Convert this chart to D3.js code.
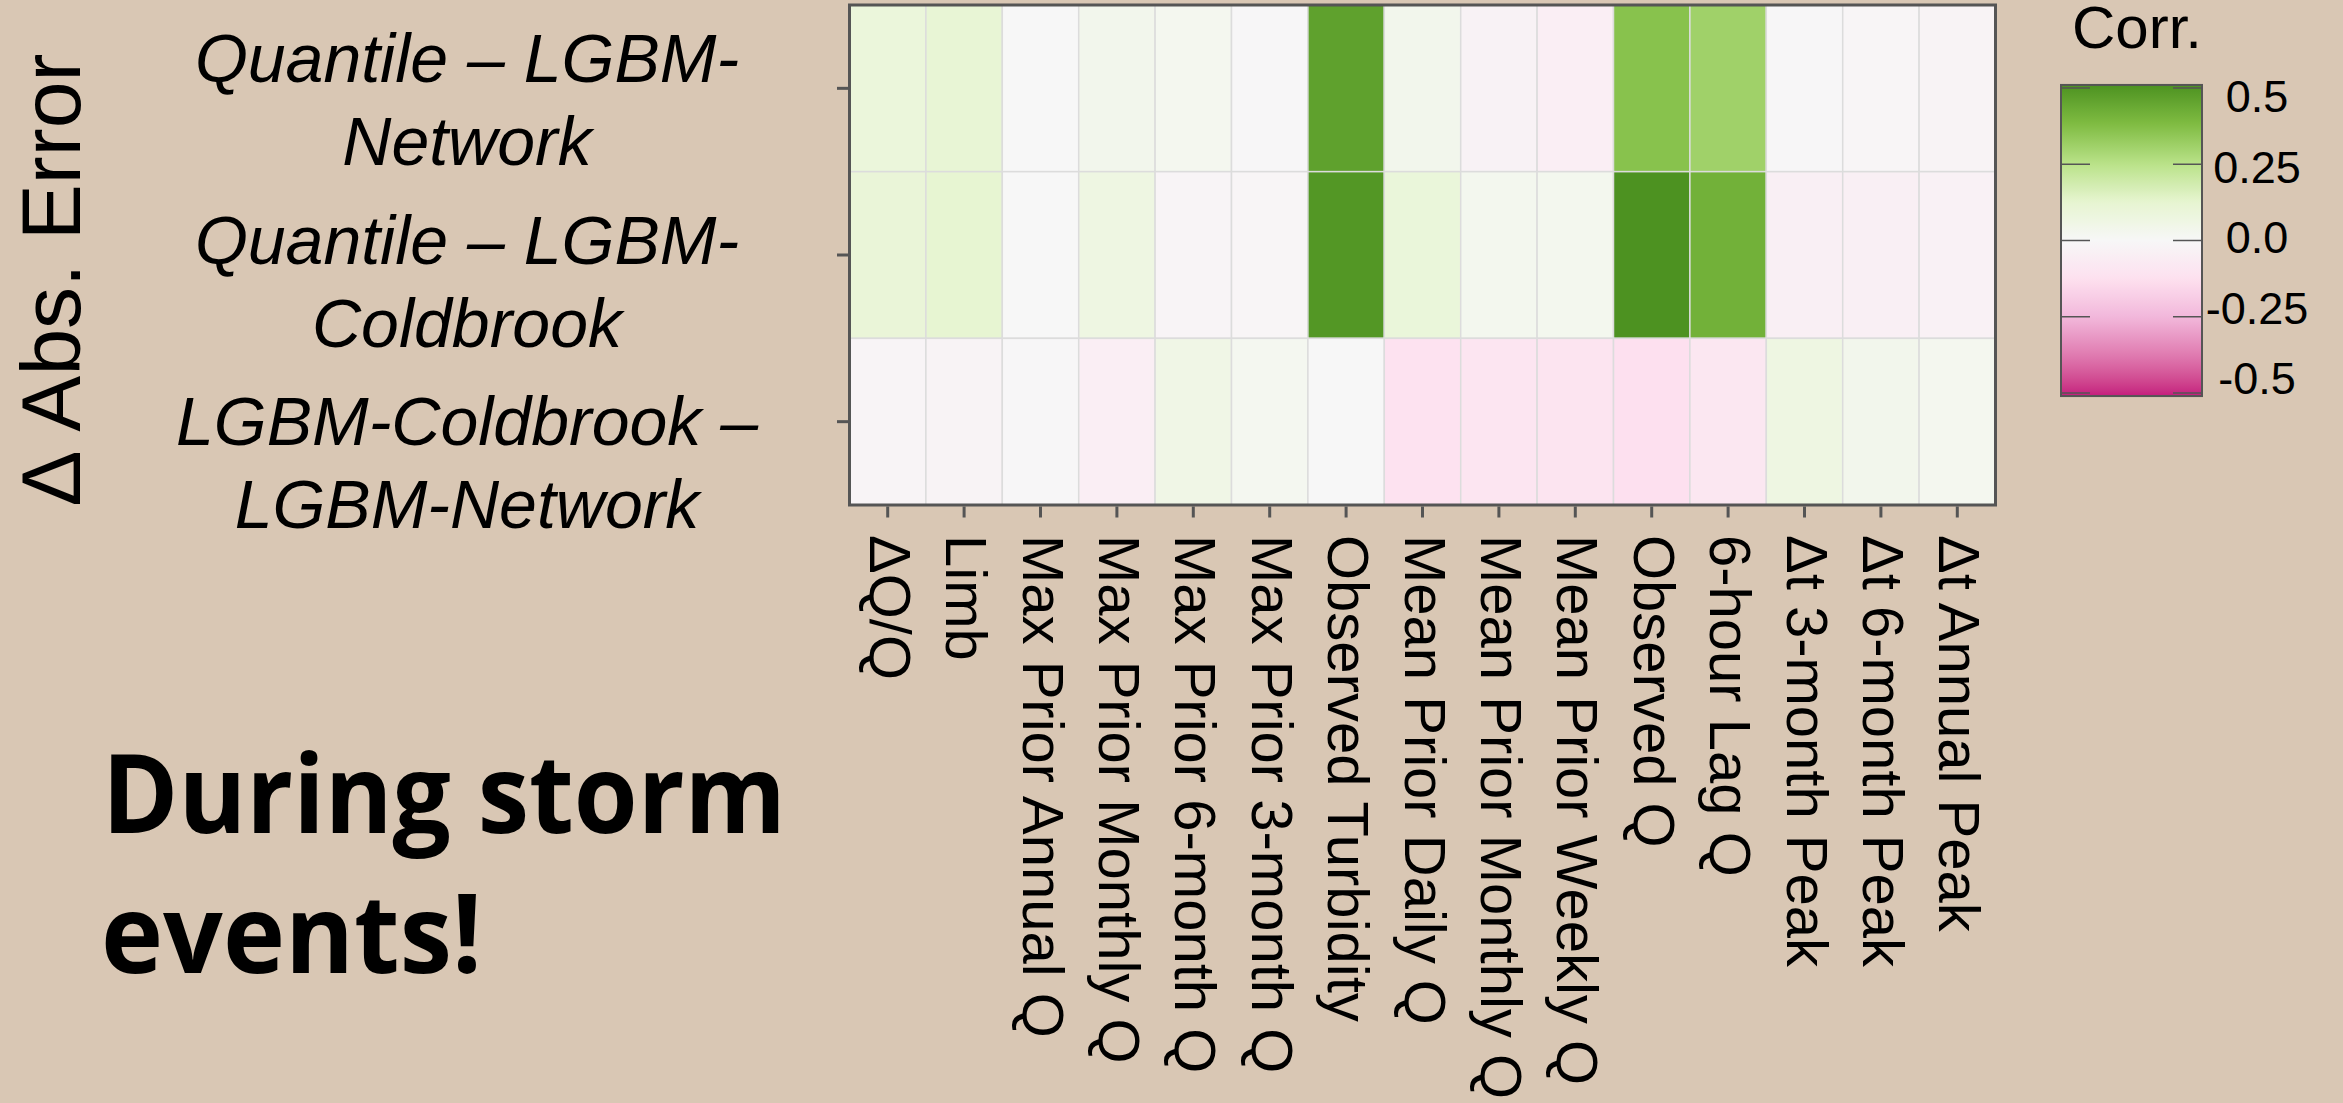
<!DOCTYPE html>
<html>
<head>
<meta charset="utf-8">
<script src="https://cdn.jsdelivr.net/npm/d3@7"></script>
<style>
  html, body { margin: 0; padding: 0; background: #d9c7b4; }
  svg { display: block; }
</style>
</head>
<body>
<svg id="chart" width="2343" height="1103"></svg>
<script>
// Predictor variables (columns of the heatmap)
const features = [
  "ΔQ/Q", "Limb", "Max Prior Annual Q", "Max Prior Monthly Q",
  "Max Prior 6-month Q", "Max Prior 3-month Q", "Observed Turbidity",
  "Mean Prior Daily Q", "Mean Prior Monthly Q", "Mean Prior Weekly Q",
  "Observed Q", "6-hour Lag Q", "Δt 3-month Peak", "Δt 6-month Peak",
  "Δt Annual Peak"
];

// Model comparisons (rows), with their two-line axis labels
const comparisons = [
  "Quantile – LGBM-Network",
  "Quantile – LGBM-Coldbrook",
  "LGBM-Coldbrook – LGBM-Network"
];
const comparisonLines = [
  ["Quantile – LGBM-", "Network"],
  ["Quantile – LGBM-", "Coldbrook"],
  ["LGBM-Coldbrook –", "LGBM-Network"]
];

// Correlation between the change in absolute error and each predictor
const corrQuantileNetwork = [
  0.09, 0.11, 0.0, 0.036, 0.026, -0.003, 0.464, 0.035,
  -0.028, -0.05, 0.362, 0.309, -0.005, -0.01, -0.025
];
const corrQuantileColdbrook = [
  0.10, 0.12, 0.0, 0.069, -0.015, -0.01, 0.495, 0.095,
  0.03, 0.03, 0.51, 0.416, -0.044, -0.044, -0.033
];
const corrColdbrookNetwork = [
  -0.017, -0.025, -0.003, -0.05, 0.056, 0.023, 0.0, -0.116,
  -0.10, -0.105, -0.128, -0.089, 0.07, 0.036, 0.026
];
const corrRows = [corrQuantileNetwork, corrQuantileColdbrook, corrColdbrookNetwork];

// Colour bar ticks
const legendTicks = [0.5, 0.25, 0, -0.25, -0.5];
const legendTickLabels = ["0.5", "0.25", "0.0", "-0.25", "-0.5"];

const svg = d3.select("#chart");
const ink = "#555555";
const sans = "'Liberation Sans', Arial, sans-serif";

// ---- heatmap panel ----
const panel = { left: 849.5, right: 1995.5, top: 5, bottom: 505 };

const x = d3.scaleBand().domain(features).range([panel.left, panel.right]).padding(0);
const y = d3.scaleBand().domain(comparisons).range([panel.top, panel.bottom]).padding(0);

const cells = [];
comparisons.forEach((c, i) => {
  features.forEach((f, j) => cells.push({ row: c, col: f, value: corrRows[i][j] }));
});

const limit = d3.max(cells, d => Math.abs(d.value));
const palette = d3.schemePiYG[9];
const color = d3.scaleLinear()
  .domain(d3.range(9).map(i => -limit + i * (2 * limit) / 8))
  .range(palette)
  .interpolate(d3.interpolateLab)
  .clamp(true);

svg.append("g")
  .selectAll("rect")
  .data(cells)
  .join("rect")
  .attr("x", d => x(d.col))
  .attr("y", d => y(d.row))
  .attr("width", x.bandwidth())
  .attr("height", y.bandwidth())
  .attr("fill", d => color(d.value))
  .attr("stroke", "#dcdcdc")
  .attr("stroke-width", 1.5);

// panel border
svg.append("rect")
  .attr("x", panel.left).attr("y", panel.top)
  .attr("width", panel.right - panel.left)
  .attr("height", panel.bottom - panel.top)
  .attr("fill", "none")
  .attr("stroke", ink)
  .attr("stroke-width", 3);

// x axis ticks
const gx = svg.append("g")
  .attr("transform", `translate(0,${panel.bottom + 1.5})`)
  .call(d3.axisBottom(x).tickSize(11).tickSizeOuter(0));
gx.select(".domain").remove();
gx.selectAll(".tick text").remove();
gx.selectAll(".tick line").attr("stroke", ink).attr("stroke-width", 3);

// x labels, rotated to read downwards
svg.append("g")
  .selectAll("text")
  .data(features)
  .join("text")
  .attr("transform", d => `translate(${x(d) + x.bandwidth() / 2},535) rotate(90)`)
  .attr("dy", "0.31em")
  .attr("font-family", sans)
  .attr("font-size", 58)
  .attr("fill", "#000")
  .attr("text-anchor", "start")
  .text(d => d);

// y axis ticks
const gy = svg.append("g")
  .attr("transform", `translate(${panel.left - 1.5},0)`)
  .call(d3.axisLeft(y).tickSize(11).tickSizeOuter(0));
gy.select(".domain").remove();
gy.selectAll(".tick text").remove();
gy.selectAll(".tick line").attr("stroke", ink).attr("stroke-width", 3);

// italic two-line row labels
const labelBaseline = d3.scalePoint().domain(comparisons).range([82, 445]);
const yLabels = svg.append("g")
  .attr("font-family", sans)
  .attr("font-style", "italic")
  .attr("font-size", 68)
  .attr("text-anchor", "middle")
  .attr("fill", "#000");
comparisons.forEach((c, i) => {
  const t = yLabels.append("text").attr("x", 467).attr("y", labelBaseline(c));
  comparisonLines[i].forEach((line, k) => {
    t.append("tspan").attr("x", 467).attr("dy", k === 0 ? 0 : 83).text(line);
  });
});

// y axis title
svg.append("text")
  .attr("transform", "translate(80,280) rotate(-90)")
  .attr("text-anchor", "middle")
  .attr("font-family", sans)
  .attr("font-size", 84)
  .attr("fill", "#000")
  .text("Δ Abs. Error");

// ---- colour bar legend ----
const legendY = d3.scaleLinear().domain([-0.5, 0.5]).range([393, 88]);
const bar = { left: 2061, right: 2202, top: legendY(limit), bottom: legendY(-limit) };

const defs = svg.append("defs");
const grad = defs.append("linearGradient")
  .attr("id", "corrGradient")
  .attr("x1", 0).attr("y1", 0).attr("x2", 0).attr("y2", 1);
d3.range(0, 1.0001, 0.02).forEach(t => {
  grad.append("stop")
    .attr("offset", t)
    .attr("stop-color", color(limit - t * 2 * limit));
});

svg.append("rect")
  .attr("x", bar.left).attr("y", bar.top)
  .attr("width", bar.right - bar.left)
  .attr("height", bar.bottom - bar.top)
  .attr("fill", "url(#corrGradient)")
  .attr("stroke", ink)
  .attr("stroke-width", 2);

const tickLen = 29;
const legendTickG = svg.append("g").attr("stroke", ink).attr("stroke-width", 1.5);
legendTicks.forEach(v => {
  legendTickG.append("line")
    .attr("x1", bar.left).attr("x2", bar.left + tickLen)
    .attr("y1", legendY(v)).attr("y2", legendY(v));
  legendTickG.append("line")
    .attr("x1", bar.right - tickLen).attr("x2", bar.right)
    .attr("y1", legendY(v)).attr("y2", legendY(v));
});

const legendLabelY = d3.scalePoint().domain(legendTickLabels).range([96, 378]);
svg.append("g")
  .selectAll("text")
  .data(legendTickLabels)
  .join("text")
  .attr("x", 2257)
  .attr("y", d => legendLabelY(d))
  .attr("dy", "0.36em")
  .attr("text-anchor", "middle")
  .attr("font-family", sans)
  .attr("font-size", 45)
  .attr("fill", "#000")
  .text(d => d);

svg.append("text")
  .attr("x", 2072).attr("y", 48)
  .attr("font-family", sans)
  .attr("font-size", 60)
  .attr("fill", "#000")
  .text("Corr.");

// ---- annotation ----
const note = svg.append("g")
  .attr("font-family", "'Open Sans', sans-serif")
  .attr("font-weight", 700)
  .attr("font-size", 110)
  .attr("fill", "#000");
note.append("text").attr("x", 102).attr("y", 833)
  .attr("textLength", 684).attr("lengthAdjust", "spacingAndGlyphs")
  .text("During storm");
note.append("text").attr("x", 101).attr("y", 973)
  .attr("textLength", 381).attr("lengthAdjust", "spacingAndGlyphs")
  .text("events!");
</script>
</body>
</html>
